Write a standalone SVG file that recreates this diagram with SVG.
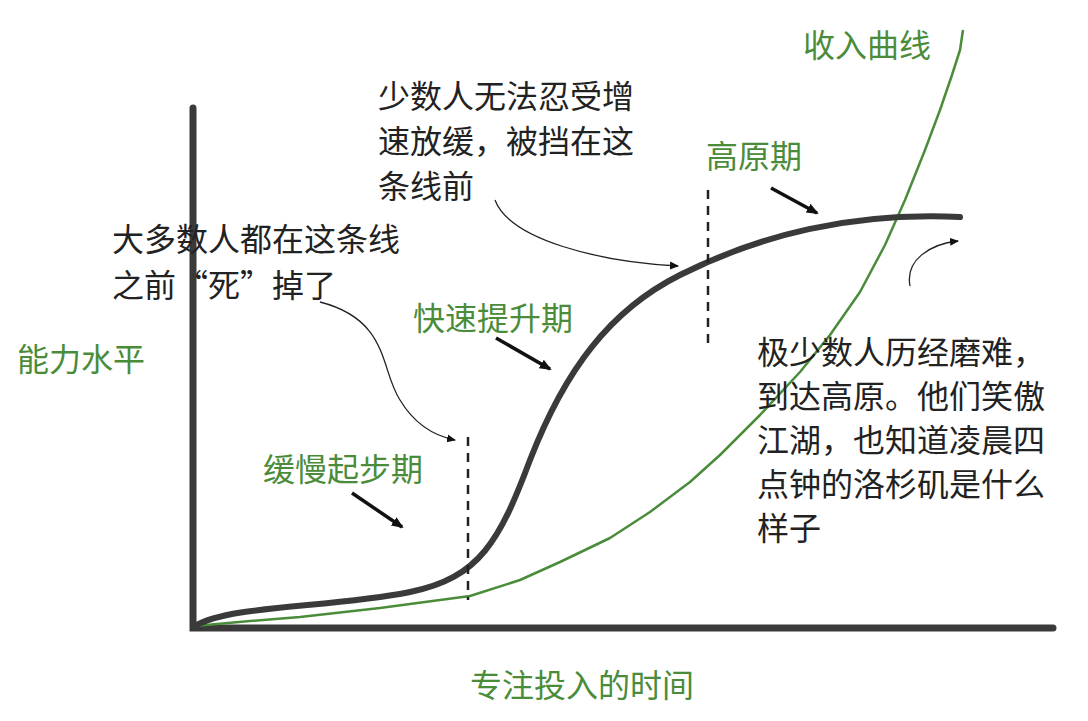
<svg xmlns="http://www.w3.org/2000/svg" width="1088" height="721" viewBox="0 0 1088 721">
<defs>
<style>
.t{font-family:"Noto Sans CJK SC","Noto Sans",sans-serif;font-size:32px;fill:#222}
.g{fill:#4a8c3a}
.axis{stroke:#3a3a3a;stroke-width:7;fill:none;stroke-linecap:round}
.thin{stroke:#222;stroke-width:1.3;fill:none}
.ptr{stroke:#111;stroke-width:3.5;fill:none}
.dash{stroke:#222;stroke-width:2.5;stroke-dasharray:9 7}
</style>
<marker id="ah" markerWidth="10" markerHeight="10" refX="8" refY="5" orient="auto" markerUnits="userSpaceOnUse"><path d="M0,1 L9,5 L0,9 Z" fill="#111"/></marker>
<marker id="ah2" markerWidth="14" markerHeight="14" refX="10" refY="7" orient="auto" markerUnits="userSpaceOnUse"><path d="M0,2 L12,7 L0,12 Z" fill="#111"/></marker>
</defs>
<rect width="1088" height="721" fill="#fff"/>
<g id="axes">
<path class="axis" d="M193,108 L193,628 L1053,628"/>
</g>
<g id="curves">
<polyline points="195,626 250,621 300,617 380,608 470,596 520,580 560,562 610,538 650,512 690,482 720,455 760,415 800,372 830,335 860,292 885,245 905,200 925,150 940,110 952,75 960,50 963,30" stroke="#4a8c3a" stroke-width="2.5" fill="none" stroke-linejoin="round"/>
<path d="M195,626 C230,605 330,608 410,592 C480,578 500,540 530,460 C565,370 610,310 680,275 C760,235 850,212 960,217" stroke="#3a3a3a" stroke-width="6" fill="none" stroke-linecap="round"/>
</g>
<g id="connectors">
<line class="dash" x1="468" y1="437" x2="468" y2="600"/>
<line class="dash" x1="708" y1="190" x2="708" y2="345"/>
<path class="thin" marker-end="url(#ah)" d="M495,200 C510,240 600,262 678,266"/>
<path class="thin" marker-end="url(#ah)" d="M320,302 C390,320 380,370 400,400 C415,425 435,436 455,440"/>
<path class="thin" marker-end="url(#ah)" d="M910,286 C905,260 930,244 958,241"/>
<path class="ptr" marker-end="url(#ah2)" d="M352,493 L402,527"/>
<path class="ptr" marker-end="url(#ah2)" d="M496,338 L550,369"/>
<path class="ptr" marker-end="url(#ah2)" d="M771,188 L817,213"/>
</g>
<g id="labels">
<text class="t g" x="803" y="57">收入曲线</text>
<text class="t" x="378" y="108">少数人无法忍受增</text>
<text class="t" x="378" y="153">速放缓，被挡在这</text>
<text class="t" x="378" y="198">条线前</text>
<text class="t g" x="706" y="168">高原期</text>
<text class="t" x="112" y="251">大多数人都在这条线</text>
<text class="t" x="112" y="297">之前“死”掉了</text>
<text class="t g" x="413" y="330">快速提升期</text>
<text class="t g" x="17" y="371">能力水平</text>
<text class="t" x="757" y="364">极少数人历经磨难，</text>
<text class="t" x="757" y="408">到达高原。他们笑傲</text>
<text class="t" x="757" y="452">江湖，也知道凌晨四</text>
<text class="t" x="757" y="496">点钟的洛杉矶是什么</text>
<text class="t" x="757" y="540">样子</text>
<text class="t g" x="263" y="481">缓慢起步期</text>
<text class="t g" x="470" y="697">专注投入的时间</text>
</g>
</svg>
